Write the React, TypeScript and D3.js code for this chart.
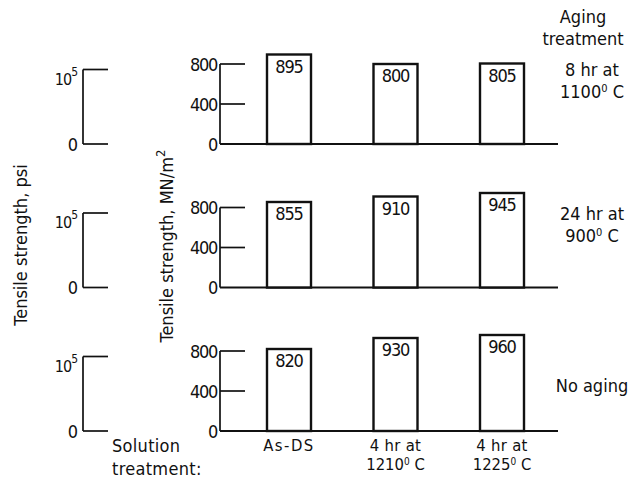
import React from "react";
import * as d3 from "d3";

// solution treatments (x categories), two lines each
const solutionLine1 = ["As-DS", "4 hr at", "4 hr at"];
const solutionLine2 = ["", "1210", "1225"];

// aging treatments, one panel each (top to bottom)
const agingLine1 = ["8 hr at", "24 hr at", "No aging"];
const agingLine2 = ["1100", "900", ""];

// tensile strength, MN/m^2
const strength8hr = [895, 800, 805];
const strength24hr = [855, 910, 945];
const strengthNoAging = [820, 930, 960];
const panels = [strength8hr, strength24hr, strengthNoAging];

const mnTicks = [0, 400, 800];
const psiTicks = [0, 100000];

const W = 632;
const H = 482;
const textFont = "'DejaVu Sans Condensed', 'DejaVu Sans', sans-serif";
const numFont = "'DejaVu Sans Condensed', 'DejaVu Sans', sans-serif";
const ink = "#111";

const baselines = [144, 287.5, 431];
const mnAxisX = 220;
const psiAxisX = 83;

const x = d3.scalePoint<number>().domain([0, 1, 2]).range([289, 502]);
const barW = 44;

const Panel = ({ values, base, index }: { values: number[]; base: number; index: number }) => {
  const y = d3.scaleLinear().domain([0, 800]).range([base, base - 80]);
  const psi = d3.scaleLinear().domain([0, 100000]).range([base, base - 74.5]);
  return (
    <g>
      {/* psi axis */}
      <line x1={psiAxisX} x2={psiAxisX} y1={psi(0)} y2={psi(100000)} stroke={ink} strokeWidth={1.7} />
      {psiTicks.map((t) => (
        <g key={t}>
          <line x1={psiAxisX} x2={psiAxisX + 25} y1={psi(t)} y2={psi(t)} stroke={ink} strokeWidth={1.7} />
          {t === 0 ? (
            <text x={77} y={psi(t) + 6.5} textAnchor="end" fontFamily={numFont} fontSize={18} letterSpacing={-1} fill={ink}>0</text>
          ) : (
            <text x={77} y={psi(t) + 15} textAnchor="end" fontFamily={numFont} fontSize={16} letterSpacing={-1} fill={ink}>
              10<tspan dy={-9} fontSize={12}>5</tspan>
            </text>
          )}
        </g>
      ))}
      {/* MN/m2 axis */}
      <line x1={mnAxisX} x2={mnAxisX} y1={y(0)} y2={y(800)} stroke={ink} strokeWidth={1.7} />
      <line x1={mnAxisX} x2={558} y1={y(0)} y2={y(0)} stroke={ink} strokeWidth={1.9} />
      {mnTicks.map((t) => (
        <g key={t}>
          {t > 0 && <line x1={mnAxisX} x2={mnAxisX + 25} y1={y(t)} y2={y(t)} stroke={ink} strokeWidth={1.7} />}
          <text x={217} y={y(t) + 6.5} textAnchor="end" fontFamily={numFont} fontSize={18} letterSpacing={-1.3} fill={ink}>
            {t}
          </text>
        </g>
      ))}
      {/* bars */}
      {values.map((v, i) => (
        <g key={i}>
          <rect x={x(i)! - barW / 2} y={y(v)} width={barW} height={y(0) - y(v)} fill="#fff" stroke={ink} strokeWidth={2.4} />
          <text x={x(i)!} y={y(v) + 18} textAnchor="middle" fontFamily={numFont} fontSize={18} letterSpacing={-1.2} fill={ink}>
            {v}
          </text>
        </g>
      ))}
      {/* aging label */}
      <text x={592} y={agingLine2[index] ? base - 68 : base - 39} textAnchor="middle" fontFamily={textFont} fontSize={18} fill={ink}>
        {agingLine1[index]}
      </text>
      {agingLine2[index] && (
        <text x={592} y={base - 46} textAnchor="middle" fontFamily={textFont} fontSize={18} fill={ink}>
          {agingLine2[index]}
          <tspan dy={-6} fontSize={11}>0</tspan>
          <tspan dy={6}> C</tspan>
        </text>
      )}
    </g>
  );
};

export default function App() {
  return (
    <svg width={W} height={H} style={{ position: "absolute", left: 0, top: 0, background: "#fff" }}>
      <rect width={W} height={H} fill="#fff" />
      {panels.map((vals, k) => (
        <Panel key={k} values={vals} base={baselines[k]} index={k} />
      ))}

      {/* axis titles */}
      <text transform="translate(27,245) rotate(-90)" textAnchor="middle" fontFamily={textFont} fontSize={18} fill={ink}>
        Tensile strength,  psi
      </text>
      <text transform="translate(173,246) rotate(-90)" textAnchor="middle" fontFamily={textFont} fontSize={18} fill={ink}>
        Tensile strength,  MN/m<tspan dy={-8} fontSize={13}>2</tspan>
      </text>

      {/* aging header */}
      <text x={583} y={23} textAnchor="middle" fontFamily={textFont} fontSize={18} fill={ink}>Aging</text>
      <text x={583} y={45} textAnchor="middle" fontFamily={textFont} fontSize={18} fill={ink}>treatment</text>

      {/* solution treatment labels */}
      <text x={112} y={452} fontFamily={textFont} fontSize={18} letterSpacing={0.3} fill={ink}>Solution</text>
      <text x={112} y={475} fontFamily={textFont} fontSize={18} letterSpacing={0.3} fill={ink}>treatment:</text>
      {solutionLine1.map((s, i) => (
        <g key={i}>
          <text x={x(i)!} y={451} textAnchor="middle" fontFamily={textFont} fontSize={16.5} letterSpacing={i === 0 ? 1.5 : 0.3} fill={ink}>
            {s}
          </text>
          {solutionLine2[i] && (
            <text x={x(i)!} y={470} textAnchor="middle" fontFamily={textFont} fontSize={16.5} fill={ink}>
              {solutionLine2[i]}
              <tspan dy={-5} fontSize={10}>0</tspan>
              <tspan dy={5}> C</tspan>
            </text>
          )}
        </g>
      ))}
    </svg>
  );
}
